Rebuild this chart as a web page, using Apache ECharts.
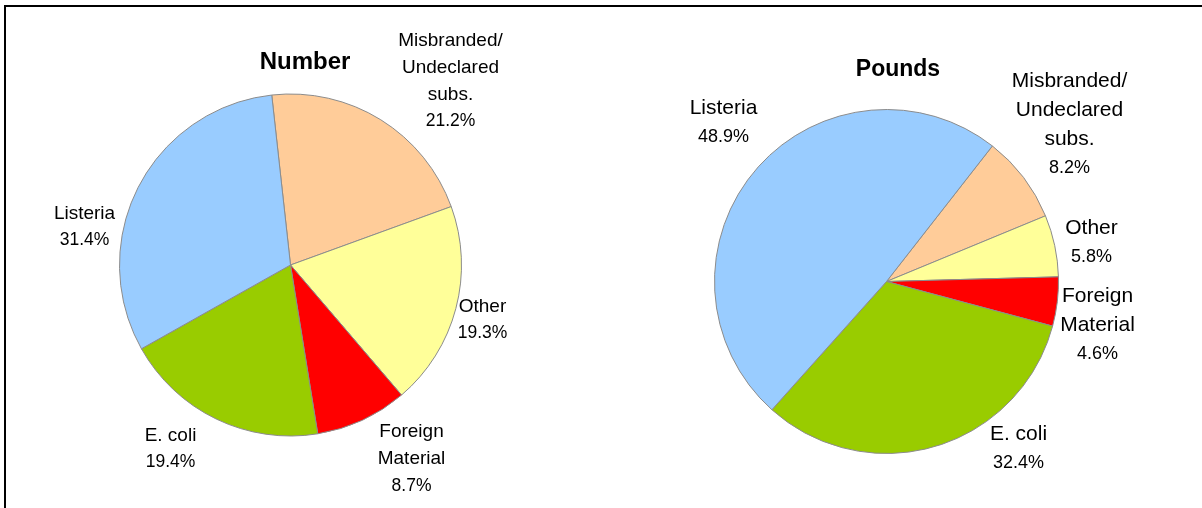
<!DOCTYPE html>
<html>
<head>
<meta charset="utf-8">
<title>Recalls by cause</title>
<script src="https://cdn.jsdelivr.net/npm/echarts@6/dist/echarts.min.js"></script>
<style>
  html, body { margin: 0; padding: 0; background: #fff; }
  #chart-content { position: absolute; left: 0; top: 0; width: 1202px; height: 508px; }
  .frame { position: absolute; left: 4px; top: 5px; width: 1200px; height: 510px;
           border-top: 2px solid #000; border-left: 2px solid #000; pointer-events: none; }
</style>
</head>
<body>
<div id="chart-content"></div>
<div class="frame"></div>
<script>
// data, clockwise order as drawn
var categories = ['Misbranded/\nUndeclared\nsubs.', 'Other', 'Foreign\nMaterial', 'E. coli', 'Listeria'];
var numberShare = [21.2, 19.3, 8.7, 19.4, 31.4];
var poundsShare = [8.2, 5.8, 4.6, 32.4, 48.9];
var sliceColors = ['#FFCC99', '#FFFF99', '#FF0000', '#99CC00', '#99CCFF'];

// label spots, relative to each pie centre
var numberLabelAt = [[160, -184], [192, 55], [121, 194], [-120, 184], [-206, -38]];
var poundsLabelAt = [[183, -157], [205, -39], [211, 44], [132, 167], [-163, -159]];

var view = {};

view.pieData = function (values) {
  return values.map(function (v, i) {
    return { name: categories[i], value: v, itemStyle: { color: sliceColors[i] } };
  });
};

view.placeLabels = function (spots, center) {
  return function (params) {
    var p = spots[params.dataIndex];
    return { x: center[0] + p[0], y: center[1] + p[1], align: 'center', verticalAlign: 'middle' };
  };
};

view.pieSeries = function (values, center, radius, startAngle, spots, nameSize, pctSize, lh) {
  return {
    type: 'pie',
    center: center,
    radius: radius,
    startAngle: startAngle,
    clockwise: true,
    avoidLabelOverlap: false,
    silent: true,
    data: view.pieData(values),
    itemStyle: { borderColor: '#8c8c8c', borderWidth: 1 },
    labelLine: { show: false },
    label: {
      show: true,
      position: 'outside',
      color: '#000',
      formatter: function (p) {
        return '{n|' + p.name + '}\n{p|' + p.value.toFixed(1) + '%}';
      },
      rich: {
        n: { fontFamily: 'Liberation Sans, Arial, sans-serif', fontSize: nameSize, lineHeight: lh, align: 'center', color: '#000' },
        p: { fontFamily: 'Liberation Sans, Arial, sans-serif', fontSize: pctSize, lineHeight: lh, align: 'center', color: '#000' }
      }
    },
    labelLayout: view.placeLabels(spots, center)
  };
};

view.loadChart = function () {
  var mychat = echarts.init(document.getElementById('chart-content'), null, { renderer: 'canvas' });
  var leftCenter = [290.5, 265];
  var rightCenter = [886.5, 281.5];
  var option = {
    backgroundColor: '#fff',
    animation: false,
    title: [
      {
        text: 'Number', left: 300, top: 45, textAlign: 'center',
        textStyle: { fontFamily: 'Liberation Sans, Arial, sans-serif', fontSize: 24, fontWeight: 'bold', color: '#000' }
      },
      {
        text: 'Pounds', left: 893, top: 53, textAlign: 'center',
        textStyle: { fontFamily: 'Liberation Sans, Arial, sans-serif', fontSize: 23, fontWeight: 'bold', color: '#000' }
      }
    ],
    series: [
      view.pieSeries(numberShare, leftCenter, 171, 96.3, numberLabelAt, 19, 17.5, 27),
      view.pieSeries(poundsShare, rightCenter, 172, 52, poundsLabelAt, 21, 18, 29)
    ]
  };
  mychat.setOption(option);
};

view.loadChart();
</script>
</body>
</html>
